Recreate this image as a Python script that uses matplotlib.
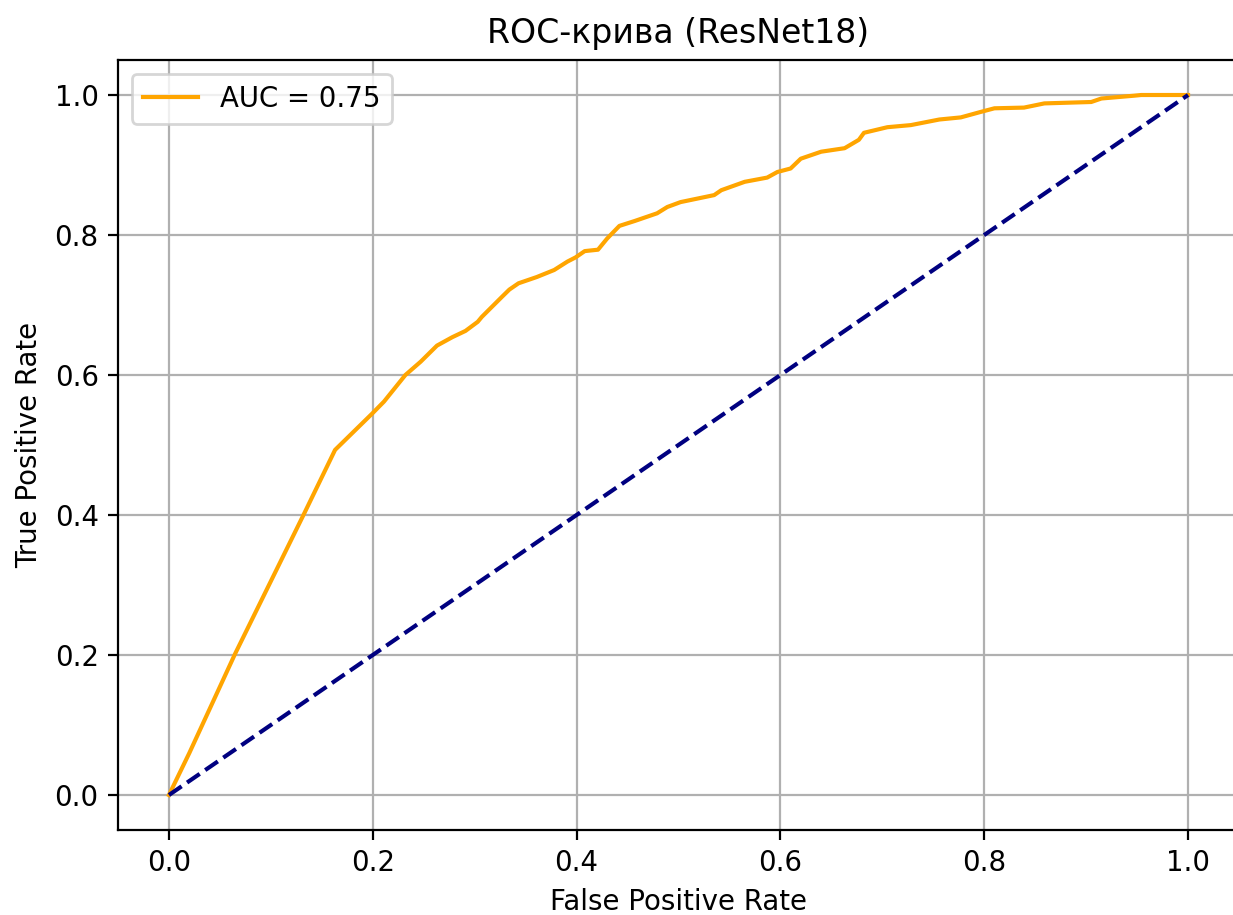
import matplotlib
matplotlib.use('Agg')
import matplotlib.pyplot as plt

# ROC points
fpr = [0.0, 0.020, 0.065, 0.133, 0.163, 0.1995, 0.211, 0.232, 0.247, 0.263,
       0.278, 0.291, 0.303, 0.307, 0.327, 0.334, 0.343, 0.361, 0.378, 0.391,
       0.399, 0.408, 0.421, 0.430, 0.442, 0.457, 0.479, 0.489, 0.502, 0.535,
       0.542, 0.565, 0.587, 0.597, 0.610, 0.620, 0.640, 0.663, 0.677, 0.682,
       0.705, 0.728, 0.756, 0.777, 0.797, 0.810, 0.839, 0.859, 0.905, 0.915,
       0.947, 0.954, 1.0]
tpr = [0.0, 0.060, 0.202, 0.403, 0.493, 0.545, 0.562, 0.600, 0.619, 0.642,
       0.654, 0.663, 0.676, 0.683, 0.712, 0.722, 0.731, 0.740, 0.750, 0.762,
       0.768, 0.777, 0.779, 0.795, 0.813, 0.820, 0.831, 0.840, 0.847, 0.857,
       0.864, 0.876, 0.882, 0.890, 0.895, 0.909, 0.919, 0.924, 0.936, 0.946,
       0.954, 0.957, 0.965, 0.968, 0.976, 0.981, 0.982, 0.988, 0.990, 0.995,
       0.999, 1.0, 1.0]
auc_value = 0.75

chance = [0, 1]

DPI = 199
fig = plt.figure(figsize=(1233 / DPI, 915 / DPI), dpi=DPI)
ax = fig.add_axes([118 / 1233, 85 / 915, 1121 / 1233, 770 / 915])

ax.plot(fpr, tpr, color='orange', lw=1.5, label=f'AUC = {auc_value:.2f}')
ax.plot(chance, chance, color='navy', lw=1.5, linestyle='--')
ax.set_xlim(-0.05, 1.05)
ax.set_ylim(-0.05, 1.05)
ax.set_xlabel('False Positive Rate')
ax.set_ylabel('True Positive Rate')
ax.set_title('ROC-крива (ResNet18)')
ax.legend(loc='upper left')
ax.grid(True)

fig.savefig('out.png', dpi=DPI)
